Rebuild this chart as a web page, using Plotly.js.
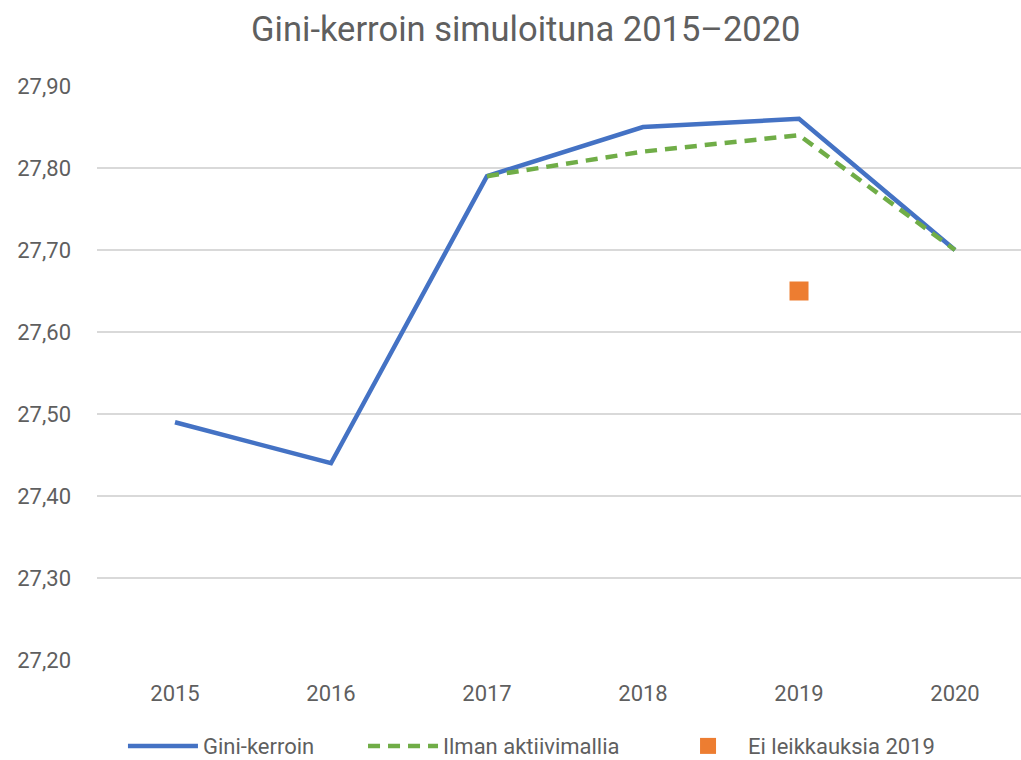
<!DOCTYPE html>
<html>
<head>
<meta charset="utf-8">
<script src="https://cdn.plot.ly/plotly-3.0.1.min.js"></script>
<style>html,body{margin:0;padding:0;background:#fff;}#chart{width:1021px;height:760px;}</style>
</head>
<body>
<div id="chart"></div>
<script>
const years = ['2015','2016','2017','2018','2019','2020'];
const gini = [27.49, 27.44, 27.79, 27.85, 27.86, 27.70];
const ilmanYears = ['2017','2018','2019','2020'];
const ilman = [27.79, 27.82, 27.84, 27.70];
const eiYears = ['2019'];
const ei = [27.65];
const yTicks = [27.2, 27.3, 27.4, 27.5, 27.6, 27.7, 27.8, 27.9];
const yTickText = yTicks.map(v => v.toFixed(2).replace('.', ','));

const font = 'Roboto, "Open Sans", sans-serif';
const grey = '#5f5f5f';

const traces = [
  {x: years, y: gini, name: 'Gini-kerroin', type: 'scatter', mode: 'lines', legend: 'legend',
   line: {color: '#4472C4', width: 4.5}},
  {x: ilmanYears, y: ilman, name: 'Ilman aktiivimallia', type: 'scatter', mode: 'lines', legend: 'legend2',
   line: {color: '#70AD47', width: 4.5, dash: '12px,8px'}},
  {x: eiYears, y: ei, name: 'Ei leikkauksia 2019', type: 'scatter', mode: 'markers', legend: 'legend3',
   marker: {color: '#ED7D31', symbol: 'square', size: 19}}
];

const legendBase = {orientation: 'h', yanchor: 'middle', y: -0.15, xanchor: 'left',
  font: {size: 22, color: grey}, itemwidth: 70, bgcolor: 'rgba(0,0,0,0)', borderwidth: 0};

const layout = {
  width: 1021, height: 760,
  margin: {l: 97, r: 0, t: 86, b: 100, autoexpand: false},
  paper_bgcolor: '#fff', plot_bgcolor: '#fff',
  font: {family: font, color: grey, size: 22},
  title: {text: 'Gini-kerroin simuloituna 2015–2020', font: {family: font, size: 34.5, color: grey},
          x: 0.515, xanchor: 'center', y: 0.962, yanchor: 'middle'},
  xaxis: {type: 'category', categoryorder: 'array', categoryarray: years,
          range: [-0.5, 5.423], showgrid: false, zeroline: false, showline: false,
          ticks: '', tickfont: {size: 22, color: grey}, ticklabelstandoff: 18, fixedrange: true},
  yaxis: {range: [27.2, 27.9], tickvals: yTicks, ticktext: yTickText,
          showgrid: true, gridcolor: '#d9d9d9', gridwidth: 1.5, zeroline: false, showline: false,
          ticks: '', tickfont: {size: 22, color: grey}, ticklabelstandoff: 25, fixedrange: true},
  showlegend: true,
  legend: Object.assign({}, legendBase, {x: 0.0281}),
  legend2: Object.assign({}, legendBase, {x: 0.2879}),
  legend3: Object.assign({}, legendBase, {x: 0.618})
};

Plotly.newPlot('chart', traces, layout, {displayModeBar: false, staticPlot: true});
</script>
</body>
</html>
